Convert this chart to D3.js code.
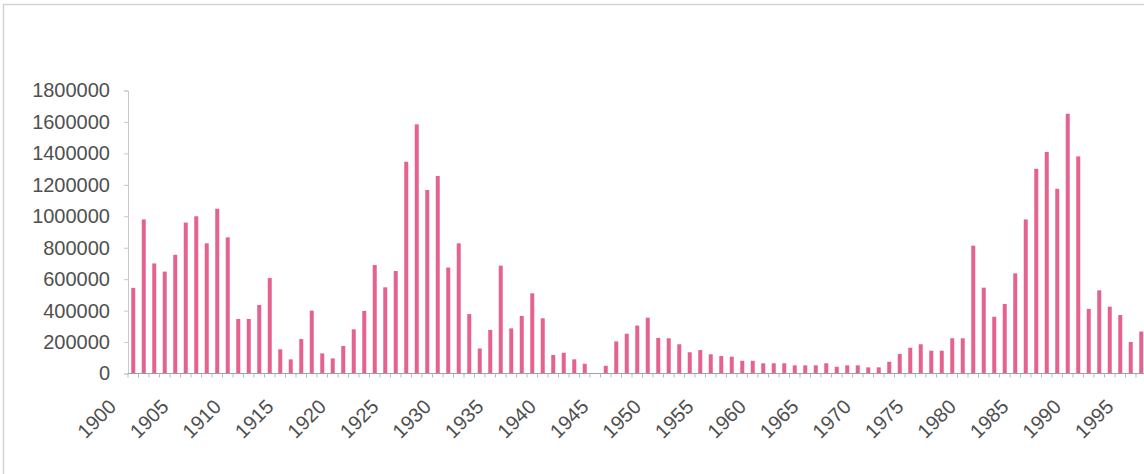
<!DOCTYPE html>
<html>
<head>
<meta charset="utf-8">
<script src="https://cdn.jsdelivr.net/npm/d3@7/dist/d3.min.js"></script>
<style>
  html, body { margin: 0; padding: 0; background: #fff; }
  svg { display: block; }
  text { font-family: "Liberation Sans", Arial, sans-serif; }
</style>
</head>
<body>
<svg id="chart" width="1144" height="474"></svg>
<script>
// Yearly counts, 1900-1996
const years = d3.range(1900, 1997);
const values = [
  545000, 980000, 700000, 648000, 755000, 960000, 1000000, 828000, 1048000, 866000,
  347000, 347000, 436000, 607000, 154000, 90000, 219000, 400000, 128000, 96000,
  175000, 281000, 398000, 690000, 548000, 652000, 1347000, 1585000, 1167000, 1256000,
  674000, 828000, 378000, 159000, 277000, 686000, 287000, 366000, 510000, 351000,
  118000, 132000, 90000, 62000, 0, 49000, 204000, 253000, 305000, 355000,
  226000, 224000, 186000, 135000, 149000, 122000, 111000, 107000, 81000, 81000,
  65000, 65000, 65000, 52000, 52000, 52000, 65000, 43000, 52000, 52000,
  39000, 39000, 75000, 124000, 164000, 186000, 145000, 145000, 224000, 224000,
  813000, 546000, 361000, 442000, 637000, 980000, 1302000, 1409000, 1175000, 1652000,
  1381000, 411000, 529000, 425000, 372000, 200000, 267000
];
const yTicks = [0, 200000, 400000, 600000, 800000, 1000000, 1200000, 1400000, 1600000, 1800000];
const xLabelYears = d3.range(1900, 2000, 5);

const svg = d3.select("#chart");

// outer chart frame
svg.append("path")
  .attr("d", "M3.5,474 V4.5 H1144")
  .attr("fill", "none")
  .attr("stroke", "#d4d4d4")
  .attr("stroke-width", 1.5);

const plotLeft = 128, plotTop = 90.5, plotBottom = 373.5;
const step = 10.5;

const x = d3.scaleBand()
  .domain(years)
  .range([plotLeft, plotLeft + step * years.length])
  .paddingInner(0.62)
  .paddingOuter(0.31);

const y = d3.scaleLinear()
  .domain([0, 1800000])
  .range([plotBottom, plotTop]);

// y axis
const yAxis = d3.axisLeft(y)
  .tickValues(yTicks)
  .tickFormat(d3.format("d"))
  .tickSize(4)
  .tickPadding(14);

const gy = svg.append("g")
  .attr("transform", `translate(${plotLeft},0)`)
  .call(yAxis);
gy.select(".domain").attr("stroke", "#c8c8c8");
gy.selectAll(".tick line").attr("stroke", "#c8c8c8");
gy.selectAll(".tick text")
  .attr("fill", "#505050")
  .attr("font-size", 20)
  .attr("font-family", "'Liberation Sans', Arial, sans-serif");

// bars
svg.append("g")
  .selectAll("rect")
  .data(years.map((yr, i) => ({ yr, v: values[i] })))
  .join("rect")
  .attr("x", d => x(d.yr))
  .attr("width", x.bandwidth())
  .attr("y", d => y(d.v))
  .attr("height", d => plotBottom - y(d.v))
  .attr("fill", "#e5628f");

// category axis with ticks between categories
const xAxisG = svg.append("g");
xAxisG.append("line")
  .attr("x1", plotLeft).attr("x2", 1144)
  .attr("y1", plotBottom).attr("y2", plotBottom)
  .attr("stroke", "#a0a0a0");
xAxisG.selectAll("line.tk")
  .data(years)
  .join("line")
  .attr("class", "tk")
  .attr("x1", d => x(d) - x.step() * x.paddingInner() / 2)
  .attr("x2", d => x(d) - x.step() * x.paddingInner() / 2)
  .attr("y1", plotBottom)
  .attr("y2", plotBottom + 4)
  .attr("stroke", "#b0c0b8");

// rotated year labels
xAxisG.selectAll("text")
  .data(xLabelYears)
  .join("text")
  .attr("transform", d => `translate(${x(d) + x.bandwidth() / 2 - 16},408) rotate(-45)`)
  .attr("text-anchor", "end")
  .attr("fill", "#505050")
  .attr("font-size", 20)
  .text(d => d);
</script>
</body>
</html>
